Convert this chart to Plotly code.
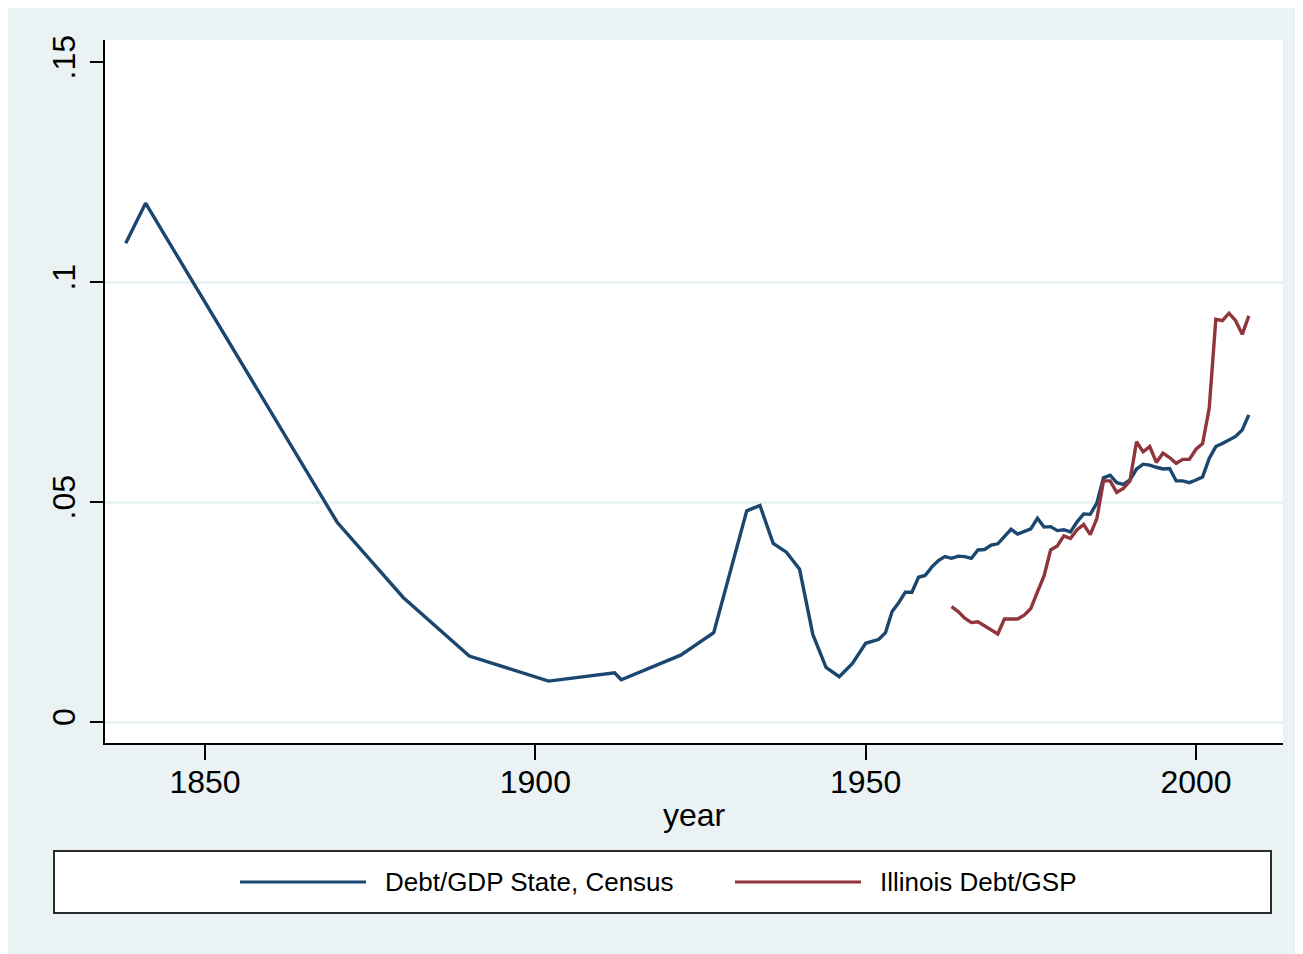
import plotly.graph_objects as go

# ---- data ----
census_years = [1838, 1841, 1870, 1880, 1890, 1902, 1912, 1913, 1922, 1927,
                1932, 1934, 1936, 1938, 1940, 1942, 1944, 1946, 1948, 1950,
                1952, 1953, 1954, 1955, 1956, 1957, 1958, 1959, 1960, 1961,
                1962, 1963, 1964, 1965, 1966, 1967, 1968, 1969, 1970, 1971,
                1972, 1973, 1974, 1975, 1976, 1977, 1978, 1979, 1980, 1981,
                1982, 1983, 1984, 1985, 1986, 1987, 1988, 1989, 1990, 1991,
                1992, 1993, 1994, 1995, 1996, 1997, 1998, 1999, 2000, 2001,
                2002, 2003, 2004, 2005, 2006, 2007, 2008]
census_debt_gdp = [0.1088, 0.1179, 0.0454, 0.0283, 0.0150, 0.0093, 0.0112, 0.0096, 0.0152, 0.0203,
                   0.0480, 0.0492, 0.0406, 0.0386, 0.0347, 0.0199, 0.0124, 0.0103, 0.0133, 0.0179,
                   0.0188, 0.0203, 0.0251, 0.0271, 0.0295, 0.0295, 0.0329, 0.0333, 0.0352, 0.0367,
                   0.0376, 0.0372, 0.0377, 0.0376, 0.0372, 0.0391, 0.0392, 0.0402, 0.0405, 0.0423,
                   0.0438, 0.0427, 0.0434, 0.0439, 0.0463, 0.0443, 0.0444, 0.0435, 0.0437, 0.0432,
                   0.0455, 0.0473, 0.0472, 0.0498, 0.0555, 0.0561, 0.0544, 0.0540, 0.0550, 0.0575,
                   0.0586, 0.0584, 0.0579, 0.0575, 0.0576, 0.0548, 0.0548, 0.0544, 0.0550, 0.0557,
                   0.0599, 0.0626, 0.0633, 0.0642, 0.0649, 0.0664, 0.0698]

illinois_years = [1963, 1964, 1965, 1966, 1967, 1968, 1969, 1970, 1971, 1972,
                  1973, 1974, 1975, 1976, 1977, 1978, 1979, 1980, 1981, 1982,
                  1983, 1984, 1985, 1986, 1987, 1988, 1989, 1990, 1991, 1992,
                  1993, 1994, 1995, 1996, 1997, 1998, 1999, 2000, 2001, 2002,
                  2003, 2004, 2005, 2006, 2007, 2008]
illinois_debt_gsp = [0.0262, 0.0251, 0.0236, 0.0226, 0.0228, 0.0218, 0.0209, 0.0200, 0.0234, 0.0234,
                     0.0234, 0.0243, 0.0258, 0.0296, 0.0332, 0.0391, 0.0400, 0.0423, 0.0417, 0.0437,
                     0.0449, 0.0426, 0.0463, 0.0548, 0.0548, 0.0522, 0.0531, 0.0548, 0.0637, 0.0614,
                     0.0626, 0.0590, 0.0611, 0.0601, 0.0588, 0.0597, 0.0597, 0.0620, 0.0633, 0.0713,
                     0.0915, 0.0912, 0.0929, 0.0912, 0.0881, 0.0923]

x_ticks = [1850, 1900, 1950, 2000]
x_tick_labels = ["1850", "1900", "1950", "2000"]
y_ticks = [0, 0.05, 0.1, 0.15]
y_tick_labels = ["0", ".05", ".1", ".15"]
grid_ticks = [0, 0.05, 0.1]
series_names = ["Debt/GDP State, Census", "Illinois Debt/GSP"]

# ---- styling ----
BLUE = "#1a476f"
RED = "#90353b"
BG = "#eaf2f3"
FONT = "Liberation Sans, Arial, sans-serif"
W, H = 1303, 954
ML, MR, MT, MB = 97, 28, 32, 219
PW = W - ML - MR
PH = H - MT - MB
OFF = 8  # page offset of the figure


def px_x(p):
    return (p - OFF - ML) / PW


def px_y(p):
    return (H - MB - (p - OFF)) / PH


fig = go.Figure()
fig.add_trace(go.Scatter(x=census_years, y=census_debt_gdp, mode="lines",
                         name=series_names[0], line=dict(color=BLUE, width=3.4)))
fig.add_trace(go.Scatter(x=illinois_years, y=illinois_debt_gsp, mode="lines",
                         name=series_names[1], line=dict(color=RED, width=3.4),
                         yaxis="y2"))

yr = [-0.00477, 0.155]
fig.update_layout(
    width=W, height=H,
    margin=dict(l=ML, r=MR, t=MT, b=MB),
    paper_bgcolor=BG,
    plot_bgcolor="white",
    showlegend=False,
    font=dict(family=FONT, color="black"),
    xaxis=dict(
        range=[1834.86, 2013.17],
        tickvals=x_ticks, ticktext=x_tick_labels,
        ticks="outside", ticklen=15, tickwidth=1.5, tickcolor="black",
        tickfont=dict(size=32, family=FONT),
        ticklabelstandoff=-5,
        showgrid=False, zeroline=False,
        showline=True, linecolor="black", linewidth=2,
        title=dict(text="year", font=dict(size=32, family=FONT), standoff=4),
    ),
    yaxis=dict(
        range=yr,
        tickvals=y_ticks, ticktext=y_tick_labels,
        tickangle=-90,
        ticks="outside", ticklen=13, tickwidth=1.5, tickcolor="black",
        tickfont=dict(size=32, family=FONT),
        ticklabelstandoff=2,
        showgrid=False, zeroline=False,
        showline=True, linecolor="black", linewidth=2,
    ),
    yaxis2=dict(
        range=yr, overlaying="y",
        tickvals=grid_ticks, showticklabels=False, ticks="",
        showgrid=True, gridcolor=BG, gridwidth=2.5,
        zeroline=False, showline=False,
    ),
)

shapes = [
    # legend box
    dict(type="rect", xref="paper", yref="paper",
         x0=px_x(54), x1=px_x(1271), y0=px_y(913), y1=px_y(851),
         fillcolor="white", line=dict(color="#2b2b2b", width=2)),
    dict(type="line", xref="paper", yref="paper",
         x0=px_x(240), x1=px_x(366), y0=px_y(882), y1=px_y(882),
         line=dict(color=BLUE, width=3)),
    dict(type="line", xref="paper", yref="paper",
         x0=px_x(735), x1=px_x(861), y0=px_y(882), y1=px_y(882),
         line=dict(color=RED, width=3)),
]
annotations = [
    dict(xref="paper", yref="paper", x=px_x(383), y=px_y(882),
         xanchor="left", yanchor="middle", showarrow=False,
         text=series_names[0], font=dict(size=26, family=FONT, color="black")),
    dict(xref="paper", yref="paper", x=px_x(878), y=px_y(882),
         xanchor="left", yanchor="middle", showarrow=False,
         text=series_names[1], font=dict(size=26, family=FONT, color="black")),
]
fig.update_layout(shapes=shapes, annotations=annotations)

fig.write_html("out.html")
